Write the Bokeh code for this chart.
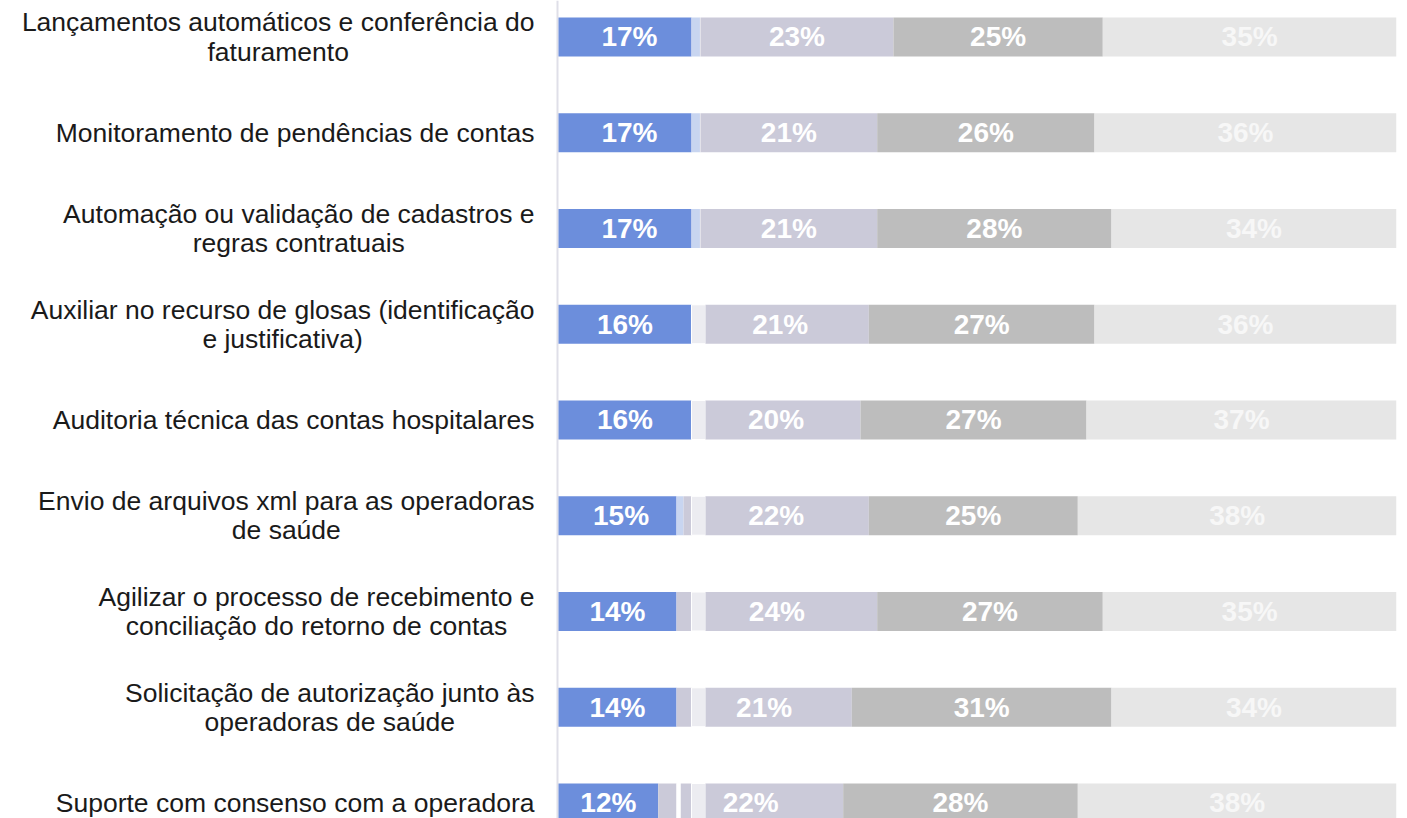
from bokeh.plotting import figure
from bokeh.models import Range1d, Span, ColumnDataSource
from bokeh.core.properties import value
from bokeh.embed import file_html
from bokeh.resources import INLINE

categories = [
    "Lançamentos automáticos e conferência do\nfaturamento",
    "Monitoramento de pendências de contas",
    "Automação ou validação de cadastros e\nregras contratuais",
    "Auxiliar no recurso de glosas (identificação\ne justificativa)",
    "Auditoria técnica das contas hospitalares",
    "Envio de arquivos xml para as operadoras\nde saúde",
    "Agilizar o processo de recebimento e\nconciliação do retorno de contas",
    "Solicitação de autorização junto às\noperadoras de saúde",
    "Suporte com consenso com a operadora",
]

# segment values (% of respondents), left to right
blue       = [15.87, 15.87, 15.87, 15.87, 15.87, 14.08, 14.08, 14.08, 11.90]
light_blue = [1.07, 1.07, 1.07, 0, 0, 0.84, 0, 0, 0]
lav_a      = [0, 0, 0, 0, 0, 0.95, 1.79, 1.79, 2.18]
gap        = [0, 0, 0, 0, 0, 0, 0, 0, 0.51]
lav_b      = [0, 0, 0, 0, 0, 0, 0, 0, 1.28]
very_light = [0, 0, 0, 1.67, 1.67, 1.67, 1.67, 1.67, 1.67]
lavender   = [23.03, 21.09, 21.09, 19.49, 18.50, 19.49, 20.49, 17.46, 16.43]
gray       = [24.98, 25.93, 27.96, 26.93, 26.97, 24.94, 26.92, 30.99, 28.00]
light_gray = [35.05, 36.04, 34.01, 36.04, 36.99, 38.03, 35.05, 34.01, 38.03]

# printed labels
lab_top   = [17, 17, 17, 16, 16, 15, 14, 14, 12]
lab_mid   = [23, 21, 21, 21, 20, 22, 24, 21, 22]
lab_gray  = [25, 26, 28, 27, 27, 25, 27, 31, 28]
lab_light = [35, 36, 34, 36, 37, 38, 35, 34, 38]

series = [
    (blue, "#6c8edc", None),
    (light_blue, "#c8d5f0", None),
    (lav_a, "#cbcad9", None),
    (gap, "#ffffff", None),
    (lav_b, "#cbcad9", None),
    (very_light, "#ececf1", "#ffffff"),
    (lavender, "#cbcad9", None),
    (gray, "#bdbdbd", None),
    (light_gray, "#e6e6e6", None),
]

n = len(categories)
ys = list(range(n))

p = figure(width=1400, height=818, output_backend="svg", toolbar_location=None,
           x_range=Range1d(-66.587, 100), y_range=Range1d(8.1619, -0.3812),
           min_border_left=0, min_border_right=4, min_border_top=0, min_border_bottom=0)
p.axis.visible = False
p.grid.visible = False
p.outline_line_color = None

p.add_layout(Span(location=-0.12, dimension="height", line_color="#dfdfe8",
                  line_width=2, level="underlay"))

left = [0.0] * n
for vals, color, lc in series:
    right = [l + v for l, v in zip(left, vals)]
    src = ColumnDataSource(dict(y=ys, left=left, right=right))
    p.hbar(y="y", left="left", right="right", height=0.407, source=src,
           fill_color=color, line_color=lc, line_width=1)
    left = right

g1 = [a + b for a, b in zip(blue, light_blue)]
g2 = [a + b + c + d + e for a, b, c, d, e in zip(lav_a, gap, lav_b, very_light, lavender)]
x1 = [v / 2 for v in g1]
x2 = [a + b / 2 for a, b in zip(g1, g2)]
x3 = [a + b + c / 2 for a, b, c in zip(g1, g2, gray)]
x4 = [a + b + c + d / 2 for a, b, c, d in zip(g1, g2, gray, light_gray)]

for xs, labs, col in [(x1, lab_top, "#ffffff"), (x2, lab_mid, "#ffffff"),
                      (x3, lab_gray, "#ffffff"), (x4, lab_light, "#f7f7f7")]:
    src = ColumnDataSource(dict(x=xs, y=ys, t=[f"{v}%" for v in labs]))
    p.text(x="x", y="y", text="t", source=src, text_align="center",
           text_baseline="middle", text_font=value("Liberation Sans"),
           text_font_size="28px", text_font_style="bold", text_color=col)

csrc = ColumnDataSource(dict(x=[-2.86] * n, y=ys, t=categories))
p.text(x="x", y="y", text="t", source=csrc, anchor="center_right",
       text_align="center", text_baseline="middle",
       text_font=value("Liberation Sans"), text_font_size="26.5px",
       text_color="#1a1a1a", text_line_height=0.97)

open("out.html", "w").write(file_html(p, INLINE))
